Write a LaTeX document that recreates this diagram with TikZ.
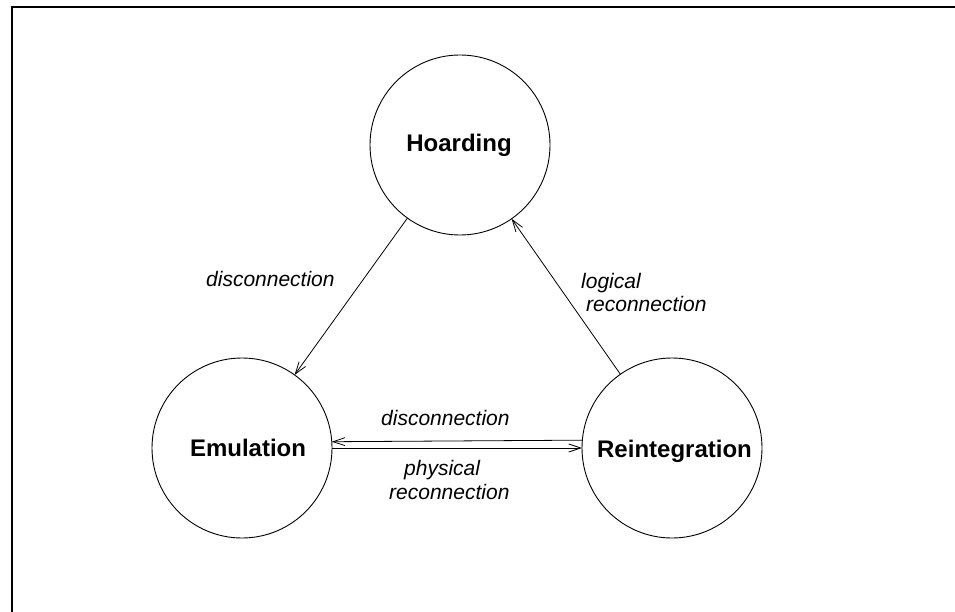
\documentclass[tikz,border=0pt]{standalone}
\usepackage{fontspec}
\setmainfont{Liberation Sans}
\usetikzlibrary{arrows.meta}
\begin{document}
\begin{tikzpicture}[x=1pt,y=-1pt,
  state/.style={circle,draw,line width=0.9pt,minimum size=180pt,inner sep=0pt,outer sep=0pt},
  statename/.style={anchor=base,font=\fontsize{24}{28}\selectfont\bfseries,inner sep=0pt},
  edgelabel/.style={anchor=base west,font=\fontsize{21}{25}\selectfont\itshape,inner sep=0pt},
  trans/.style={line width=0.8pt,-{Straight Barb[length=12pt,width=8pt,line width=0.8pt]}}]
\useasboundingbox (0,0) rectangle (955,612);
\draw[line width=1.3pt] (12,612) -- (12,7) -- (955,7);
\node[state] (hoard) at (460,145) {};
\node[state] (emu) at (242,448) {};
\node[state] (rei) at (672,448) {};
\node[statename] (thoard) at (459,152) {Hoarding};
\node[statename] (temu) at (248,456) {Emulation};
\node[statename] (trei) at (674.5,457) {Reintegration};
\draw[trans] (hoard) -- (emu);
\draw[trans] (rei) -- (hoard);
\draw[trans] (rei.175.54) -- (emu.4.46);
\draw[trans] (emu.east) -- (rei.west);
\node[edgelabel] (l1) at (206,287) {disconnection};
\node[edgelabel] (l2) at (581,288) {logical};
\node[edgelabel] (l3) at (586,311.5) {reconnection};
\node[edgelabel] (l4) at (381,425.5) {disconnection};
\node[edgelabel] (l5) at (404,475) {physical};
\node[edgelabel] (l6) at (389,499) {reconnection};
\end{tikzpicture}
\end{document}
